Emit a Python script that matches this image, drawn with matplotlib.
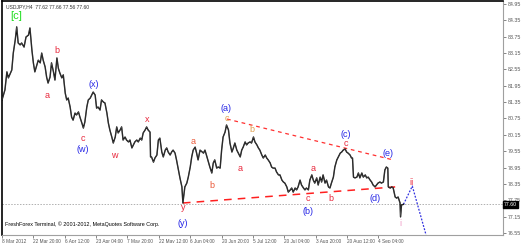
import numpy as np
import matplotlib
matplotlib.use("Agg")
import matplotlib.pyplot as plt

# ---- data (H4 bars, USDJPY) ----
bars = [0, 6, 10, 13, 20, 23, 27, 30, 33, 37, 40, 45, 49, 54, 57, 61, 64, 67, 71, 74,
        78, 81, 84, 88, 91, 94, 98, 101, 105, 108, 112, 115, 118, 122, 125, 129, 132, 135, 139, 142,
        145, 149, 152, 156, 159, 163, 166, 169, 173, 176, 180, 183, 186, 190, 193, 196, 200, 203, 207, 210,
        214, 217, 220, 224, 227, 231, 234, 237, 241, 244, 247, 251, 254, 258, 261, 265, 268, 271, 275, 278,
        282, 285, 288, 292, 295, 298, 302, 303, 305, 309, 312, 316, 319, 322, 326, 329, 333, 336, 339, 343,
        346, 349, 353, 356, 360, 363, 367, 369, 373, 377, 380, 384, 387, 390, 394, 397, 400, 404, 411, 414,
        417, 421, 424, 428, 431, 434, 438, 441, 445, 448, 451, 455, 458, 462, 465, 469, 472, 475, 479, 482,
        486, 489, 492, 496, 499, 502, 506, 509, 513, 516, 520, 523, 526, 530, 533, 537, 540, 543, 547, 550,
        553, 557, 560, 564, 567, 571, 574, 577, 581, 584, 588, 591, 594, 598, 601, 604, 608, 611, 615, 618,
        621, 625, 628, 632, 635, 638, 642, 645, 649, 652, 655, 659, 662, 666, 669, 672, 676, 679, 683, 686,
        690, 693, 696, 700, 703, 706, 710, 713, 715, 717, 720, 724, 727, 730, 734, 737, 741, 744, 747, 751,
        754, 757, 761, 764, 767, 771, 774, 778, 781, 784, 787, 788, 792, 795, 798, 802, 805, 808, 812, 813,
        815, 819]
close = [81.43, 81.80, 82.46, 82.24, 82.53, 83.15, 83.63, 84.11, 83.52, 83.45, 83.52, 83.37, 83.74, 83.81, 84.07, 83.26, 82.79, 82.46, 82.71, 82.89,
         82.79, 83.15, 82.89, 82.64, 82.27, 82.05, 82.27, 82.79, 82.46, 82.16, 82.97, 82.59, 82.42, 82.24, 82.35, 81.68, 81.43, 81.50, 81.17, 80.80,
         80.69, 80.95, 80.88, 80.99, 80.80, 80.58, 80.40, 80.62, 81.17, 81.43, 81.50, 81.61, 81.72, 81.61, 81.13, 81.17, 81.06, 81.43, 81.35, 81.32,
         80.95, 80.58, 80.33, 80.07, 79.85, 80.07, 80.44, 80.22, 80.33, 80.44, 79.96, 80.07, 79.96, 79.89, 79.96, 79.67, 79.78, 79.89, 79.96, 79.89,
         80.03, 79.96, 80.22, 80.33, 80.44, 80.33, 80.25, 79.34, 79.34, 79.15, 79.30, 79.41, 79.96, 80.03, 79.52, 79.34, 79.59, 79.67, 79.52, 79.41,
         79.52, 79.59, 79.48, 79.23, 78.86, 78.57, 78.24, 77.65, 78.24, 78.38, 78.60, 78.97, 79.34, 79.59, 79.70, 79.48, 79.23, 79.59, 79.48, 79.59,
         79.41, 79.15, 78.97, 78.75, 79.12, 79.23, 78.93, 78.97, 78.93, 79.59, 80.07, 80.25, 80.51, 80.33, 79.85, 79.52, 79.67, 79.85, 79.59, 79.48,
         79.34, 79.59, 79.70, 79.89, 79.78, 79.85, 79.89, 79.85, 80.07, 79.89, 79.78, 79.67, 79.59, 79.41, 79.30, 79.41, 79.30, 79.23, 79.12, 78.97,
         78.93, 78.93, 78.79, 78.68, 78.68, 78.49, 78.42, 78.38, 78.24, 78.05, 78.13, 78.20, 78.05, 78.20, 78.13, 78.24, 78.49, 78.31, 78.20, 78.13,
         78.20, 78.13, 78.49, 78.68, 78.49, 78.38, 78.57, 78.31, 78.60, 78.42, 78.68, 78.38, 78.49, 78.24, 78.20, 78.38, 78.60, 78.97, 79.23, 79.34,
         79.48, 79.52, 79.59, 79.63, 79.52, 79.48, 79.41, 79.30, 79.30, 78.60, 78.57, 78.60, 78.75, 78.57, 78.75, 78.60, 78.68, 78.57, 78.60, 78.49,
         78.42, 78.31, 78.24, 78.31, 78.38, 78.42, 78.38, 78.42, 78.86, 78.97, 78.93, 78.24, 78.20, 78.24, 78.20, 77.87, 77.83, 77.87, 77.65, 77.14,
         77.58, 77.60]

last_price = 77.60
header = "USDJPY,H4  77.62 77.66 77.56 77.60"
footer = "FreshForex Terminal, \u00a9 2001-2012, MetaQuotes Software Corp."

price_ticks = [76.55, 77.15, 77.75, 78.35, 78.95, 79.55, 80.15, 80.75, 81.35, 81.95,
               82.55, 83.15, 83.75, 84.35, 84.95]
date_ticks = [0, 64, 128, 192, 256, 320, 384, 448, 512, 576, 640, 704, 768]
date_labels = ["8 Mar 2012", "22 Mar 20:00", "6 Apr 12:00", "23 Apr 04:00", "7 May 20:00",
               "22 May 12:00", "6 Jun 04:00", "20 Jun 20:00", "5 Jul 12:00", "20 Jul 04:00",
               "3 Aug 20:00", "20 Aug 12:00", "4 Sep 04:00"]

# triangle boundaries and projected path
upper_x, upper_y = [459, 798], [80.73, 79.23]
lower_x, lower_y = [369, 802], [77.65, 78.24]
proj_x, proj_y = [819, 837, 865], [77.60, 78.27, 76.48]

# wave labels: text, bar, price, colour
RED, BLUE, ORNG, GOLD = "#e8283c", "#2424e6", "#ea5a3a", "#e0a050"
wave_labels = [
    ("[c]", 29, 84.51, "#22dd22"),
    ("b", 112, 83.23, RED), ("a", 92, 81.58, RED),
    ("(x)", 188, 82.01, BLUE), ("c", 165, 80.03, RED), ("(w)", 165, 79.60, BLUE),
    ("w", 228, 79.41, RED), ("x", 296, 80.73, RED),
    ("y", 369, 77.50, RED), ("(y)", 369, 76.90, BLUE),
    ("a", 390, 79.92, ORNG), ("b", 428, 78.31, ORNG),
    ("(a)", 457, 81.10, BLUE), ("c", 459, 80.75, GOLD), ("b", 510, 80.33, GOLD),
    ("a", 486, 78.90, RED), ("a", 634, 78.90, RED),
    ("(c)", 702, 80.17, BLUE), ("c", 702, 79.84, RED),
    ("(e)", 787, 79.48, BLUE), ("(d)", 761, 77.80, BLUE),
    ("c", 624, 77.82, RED), ("(b)", 624, 77.33, BLUE), ("b", 671, 77.80, RED),
    ("ii", 836, 78.42, RED), ("i", 812, 76.88, "#f0a0c8"),
]

plt.rcParams['font.family'] = ['Liberation Sans', 'DejaVu Sans']

fig = plt.figure(figsize=(5.22, 2.43), dpi=100)
W, H = 522, 243
ax = fig.add_axes([2 / W, 8 / H, 501 / W, 234 / H])

ax.set_xlim(0, 1022)
ax.set_ylim(76.476, 85.06)

# current price line
ax.axhline(last_price, color="#b0b0b0", lw=0.7, ls=(0, (1.5, 1.5)), zorder=1)

ax.plot(bars, close, color="black", lw=1.0, zorder=3)
ax.plot(bars, close, color="#909090", lw=0.3, zorder=3, alpha=0.7)

ax.plot(upper_x, upper_y, color="#ff3030", lw=0.9, ls=(0, (3, 3)), zorder=2)
ax.plot(lower_x, lower_y, color="#ff2020", lw=1.1, ls=(0, (5, 4)), zorder=2)
ax.plot(proj_x, proj_y, color="#3030e0", lw=0.9, ls=(0, (1.5, 1.2)), zorder=2)

for txt, bx, py, col in wave_labels:
    size = 8 if txt == "[c]" else 6.5
    ax.text(bx, py, txt, color=col, fontsize=size, ha="center", va="center", zorder=5)

# price axis on the right
ax.yaxis.tick_right()
ax.set_yticks(price_ticks)
ax.set_yticklabels([f"{p:.2f}" for p in price_ticks], fontsize=3.8, color="#333333")
ax.tick_params(axis="y", length=2, width=0.5, pad=1.5, colors="#555555")

ax.set_xticks(date_ticks)
ax.set_xticklabels(date_labels, fontsize=3.4, color="#333333", ha="left")
ax.tick_params(axis="x", length=2, width=0.5, pad=1, colors="#555555")

ax.text(1024, last_price, f"{last_price:.2f}", fontsize=3.8, color="white",
        ha="left", va="center", transform=ax.transData, clip_on=False,
        bbox=dict(boxstyle="square,pad=0.15", fc="black", ec="black"))

for side in ["left", "top"]:
    ax.spines[side].set_color("black")
    ax.spines[side].set_linewidth(1.2)
for side in ["right", "bottom"]:
    ax.spines[side].set_color("#a0a0a0")
    ax.spines[side].set_linewidth(0.8)

ax.text(0.008, 0.985, header, transform=ax.transAxes, fontsize=3.6,
        color="#333333", ha="left", va="top")
ax.text(0.006, 0.035, footer, transform=ax.transAxes, fontsize=3.9,
        color="black", ha="left", va="bottom")

fig.savefig("out.png", dpi=100)
